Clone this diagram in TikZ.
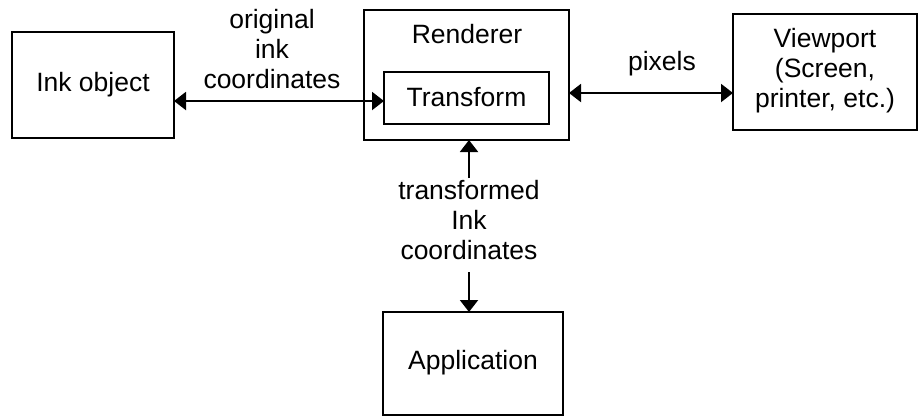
\documentclass[tikz,border=0pt]{standalone}
\usepackage{fontspec}
\setmainfont{Liberation Sans}
\usetikzlibrary{arrows.meta}
\begin{document}
\begin{tikzpicture}[x=1pt,y=-1pt,
  box/.style={draw,line width=2.8pt,inner sep=0pt,outer sep=0pt},
  lbl/.style={inner sep=0pt,outer sep=0pt,align=center,font=\fontsize{26.5}{30}\selectfont},
  arr/.style={line width=2pt,-{Triangle[length=12pt,width=18pt]}},
  darr/.style={line width=2pt,{Triangle[length=12pt,width=18pt]}-{Triangle[length=12pt,width=18pt]}}]
\useasboundingbox (0,0) rectangle (918,416);
\node[box,minimum width=162pt,minimum height=106pt] (ink) at (93,85) {};
\node[lbl] (inkt) at (93,85) {Ink object};
\node[box,minimum width=205pt,minimum height=130pt] (ren) at (466.5,75) {};
\node[lbl,anchor=base] (rent) at (467,43) {Renderer};
\node[box,minimum width=165pt,minimum height=52pt] (tr) at (466.5,98) {};
\node[lbl] (trt) at (466.5,97) {Transform};
\node[box,minimum width=184pt,minimum height=116pt] (vp) at (825,72) {};
\node[lbl] (vpt) at (825,71) {Viewport\\(Screen,\\printer, etc.)};
\node[box,minimum width=180pt,minimum height=103pt] (app) at (473,363.5) {};
\node[lbl] (appt) at (473,363) {Application};
% labels
\node[lbl] (orig) at (272,49) {original\\ink\\coordinates};
\node[lbl,anchor=base] (pix) at (662,70) {pixels};
\node[lbl] (tic) at (469,220) {transformed\\Ink\\coordinates};
% connectors
\coordinate (y1) at (0,101);
\draw[darr] (ink.east |- y1) -- (tr.west |- y1);
\coordinate (y2) at (0,93);
\draw[darr] (ren.east |- y2) -- (vp.west |- y2);
\coordinate (up0) at (469,178);
\draw[arr] (up0) -- (up0 |- ren.south);
\coordinate (dn0) at (469,272);
\draw[arr] (dn0) -- (dn0 |- app.north);
\end{tikzpicture}
\end{document}
